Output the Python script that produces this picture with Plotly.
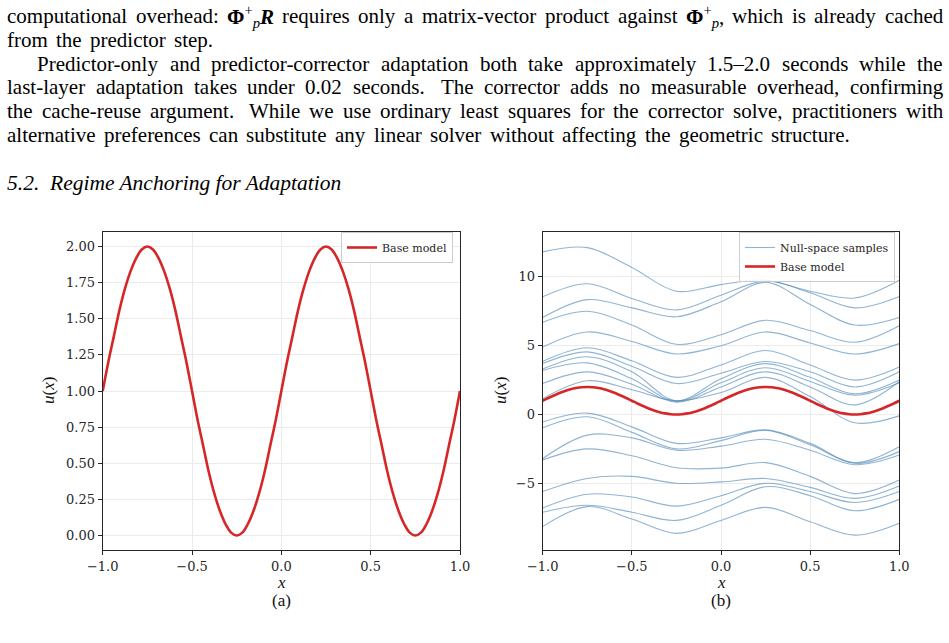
import re
import plotly.graph_objects as go

W, H = 949, 643

# ---------------- data ----------------
x_dense = [-1 + i / 32 for i in range(65)]
base_model = [1.00, 1.20, 1.38, 1.56, 1.71, 1.83, 1.92, 1.98, 2.00, 1.98, 1.92, 1.83, 1.71, 1.56, 1.38, 1.20,
              1.00, 0.80, 0.62, 0.44, 0.29, 0.17, 0.08, 0.02, 0.00, 0.02, 0.08, 0.17, 0.29, 0.44, 0.62, 0.80,
              1.00, 1.20, 1.38, 1.56, 1.71, 1.83, 1.92, 1.98, 2.00, 1.98, 1.92, 1.83, 1.71, 1.56, 1.38, 1.20,
              1.00, 0.80, 0.62, 0.44, 0.29, 0.17, 0.08, 0.02, 0.00, 0.02, 0.08, 0.17, 0.29, 0.44, 0.62, 0.80,
              1.00]

x_samples = [-1.0, -0.75, -0.5, -0.25, 0.0, 0.25, 0.5, 0.75, 1.0]
null_space_samples = [
    [11.82, 12.13, 10.68, 8.96, 9.44, 9.76, 8.96, 8.47, 9.76],
    [8.55, 9.5, 8.43, 7.6, 8.67, 9.7, 8.85, 7.75, 8.58],
    [7.05, 8.35, 7.75, 7.1, 8.2, 9.6, 8.0, 6.5, 7.05],
    [6.7, 7.5, 6.5, 5.1, 5.8, 6.85, 6.1, 5.25, 6.45],
    [4.9, 6.0, 5.3, 4.4, 5.0, 6.0, 5.2, 4.4, 5.15],
    [3.86, 4.85, 3.9, 2.7, 3.6, 4.65, 3.6, 2.5, 3.45],
    [3.7, 4.55, 3.5, 2.25, 3.0, 3.85, 3.1, 2.0, 3.1],
    [3.3, 4.2, 3.1, 1.0, 2.6, 3.7, 2.7, 1.5, 2.5],
    [3.2, 3.75, 2.6, 0.95, 2.3, 3.4, 2.4, 1.4, 2.3],
    [2.25, 3.1, 2.2, 0.9, 2.0, 3.1, 2.0, 0.7, 2.4],
    [1.15, 2.45, 1.8, 1.0, 1.6, 2.7, 1.3, -0.6, -0.1],
    [-0.55, 0.1, -0.9, -2.1, -1.7, -1.12, -2.1, -3.5, -2.35],
    [-0.97, -0.17, -1.3, -2.5, -1.9, -1.15, -2.2, -3.55, -2.7],
    [-3.2, -1.5, -1.7, -2.6, -2.3, -1.8, -2.6, -3.65, -2.95],
    [-3.3, -2.5, -3.0, -3.87, -3.9, -3.5, -4.5, -5.75, -4.77],
    [-5.6, -4.65, -4.5, -5.0, -4.9, -4.65, -5.3, -6.1, -5.2],
    [-6.8, -5.8, -6.0, -6.66, -5.9, -5.0, -5.6, -6.4, -5.6],
    [-7.1, -6.6, -7.1, -7.7, -6.6, -5.25, -5.9, -7.0, -6.17],
    [-8.15, -6.7, -7.6, -8.64, -7.7, -6.75, -7.8, -8.77, -7.9],
]

x_ticks = [-1.0, -0.5, 0.0, 0.5, 1.0]
left_y_ticks = [0.0, 0.25, 0.5, 0.75, 1.0, 1.25, 1.5, 1.75, 2.0]
right_y_ticks = [-5, 0, 5, 10]

PHI = "<b>Φ</b><sup>+</sup><sub><i>p</i></sub>"
para_lines = [
    "computational overhead: " + PHI + "<b><i>R</i></b> requires only a matrix-vector product against "
    + PHI + ", which is already cached",
    "from the predictor step.",
    "Predictor-only and predictor-corrector adaptation both take approximately 1.5–2.0 seconds while the",
    "last-layer adaptation takes under 0.02 seconds. The corrector adds no measurable overhead, confirming",
    "the cache-reuse argument. While we use ordinary least squares for the corrector solve, practitioners with",
    "alternative preferences can substitute any linear solver without affecting the geometric structure.",
]
section_title = "<i>5.2.  Regime Anchoring for Adaptation</i>"

# ---------------- helpers ----------------
def px(x):
    return x / W


def py(y):
    return 1 - y / H


CW = {' ': 250, '(': 333, ')': 333, '+': 564, ',': 250, '-': 333, '.': 250, ':': 278, '–': 500,
      'A': 722, 'B': 667, 'C': 667, 'D': 722, 'E': 611, 'F': 556, 'G': 722, 'H': 722, 'I': 333, 'J': 389,
      'K': 722, 'L': 611, 'M': 889, 'N': 722, 'O': 722, 'P': 556, 'Q': 722, 'R': 667, 'S': 556, 'T': 611,
      'U': 722, 'V': 722, 'W': 944, 'X': 722, 'Y': 722, 'Z': 611,
      'a': 444, 'b': 500, 'c': 444, 'd': 500, 'e': 444, 'f': 333, 'g': 500, 'h': 500, 'i': 278, 'j': 278,
      'k': 500, 'l': 278, 'm': 778, 'n': 500, 'o': 500, 'p': 500, 'q': 500, 'r': 333, 's': 389, 't': 278,
      'u': 500, 'v': 500, 'w': 722, 'x': 500, 'y': 500, 'z': 444, 'Φ': 760}


def cw(c):
    if c.isdigit():
        return 500
    return CW.get(c, 500)


def word_width(html, size):
    total = 0.0
    for m in re.finditer(r'<(sup|sub)>(.*?)</\1>|<[^>]+>|([^<]+)', html):
        if m.group(1):
            inner = re.sub(r'<[^>]+>', '', m.group(2))
            total += 0.7 * sum(cw(c) for c in inner)
        elif m.group(3):
            total += sum(cw(c) for c in m.group(3))
    return total * size / 1000.0


# ---------------- figure ----------------
RED = "#d62728"
BLUE = "rgba(70,130,180,0.6)"
SPINE = "#262626"
GRID = "#ebebeb"
TICKFONT = dict(family="DejaVu Serif", size=13, color="#262626")

fig = go.Figure()

fig.add_trace(go.Scatter(x=x_dense, y=base_model, mode="lines", name="Base model",
                         line=dict(color=RED, width=2.6, shape="spline"),
                         xaxis="x", yaxis="y", legend="legend"))

for i, s in enumerate(null_space_samples):
    fig.add_trace(go.Scatter(x=x_samples, y=s, mode="lines", name="Null-space samples",
                             line=dict(color=BLUE, width=1.1, shape="spline", smoothing=1.0),
                             legendgroup="ns", showlegend=(i == 0),
                             xaxis="x2", yaxis="y2", legend="legend2"))
fig.add_trace(go.Scatter(x=x_dense, y=base_model, mode="lines", name="Base model",
                         line=dict(color=RED, width=2.6, shape="spline"),
                         xaxis="x2", yaxis="y2", legend="legend2"))

axis_common = dict(showline=True, mirror=True, linecolor=SPINE, linewidth=1.3,
                   ticks="outside", ticklen=4, tickwidth=1, tickcolor=SPINE,
                   showgrid=True, gridcolor=GRID, gridwidth=0.8, zeroline=False,
                   tickfont=TICKFONT, automargin=False)

L0, L1 = px(102.7), px(460)
R0, R1 = px(542.7), px(899.3)
B0, B1 = py(550), py(231.5)

legend_common = dict(yanchor="top", xanchor="right",
                     bgcolor="rgba(255,255,255,0.85)", bordercolor="#cccccc", borderwidth=1,
                     font=dict(family="DejaVu Serif", size=11, color="#262626"), itemwidth=30,
                     tracegroupgap=0)

fig.update_layout(
    width=W, height=H, margin=dict(l=0, r=0, t=0, b=0, autoexpand=False),
    paper_bgcolor="white", plot_bgcolor="white",
    xaxis=dict(domain=[L0, L1], range=[-1, 1], tickvals=x_ticks, tickformat=".1f", anchor="y", **axis_common),
    yaxis=dict(domain=[B0, B1], range=[-0.1, 2.104], tickvals=left_y_ticks, tickformat=".2f", anchor="x", **axis_common),
    xaxis2=dict(domain=[R0, R1], range=[-1, 1], tickvals=x_ticks, tickformat=".1f", anchor="y2", **axis_common),
    yaxis2=dict(domain=[B0, B1], range=[-9.85, 13.3], tickvals=right_y_ticks, anchor="x2", **axis_common),
    legend=dict(x=px(453), y=py(232), **legend_common),
    legend2=dict(x=px(895), y=py(232), **legend_common),
    showlegend=True,
)

# justified paragraph text, one annotation per word
anns = []
FS = 21
BODY = dict(family="Liberation Serif", size=FS, color="#000000")
line_y = [16, 40, 64, 87, 111, 135]
line_x0 = [7, 7, 37, 7, 7, 7]
line_x1 = [943, 213, 943, 943, 943, 850]
for i, line in enumerate(para_lines):
    words = line.split(" ")
    widths = [word_width(w, FS) for w in words]
    weights = [1.6 if words[k].endswith(".") else 1.0 for k in range(len(words) - 1)]
    gap = (line_x1[i] - line_x0[i] - sum(widths)) / max(sum(weights), 1e-9)
    xpos = line_x0[i]
    for k, w in enumerate(words):
        anns.append(dict(text=w, x=px(xpos - 2), y=py(line_y[i]), xanchor="left", yanchor="middle",
                         xref="paper", yref="paper", showarrow=False, font=BODY))
        if k < len(weights):
            xpos += widths[k] + gap * weights[k]

anns.append(dict(text=section_title, x=px(5), y=py(183), xanchor="left", yanchor="middle",
                 xref="paper", yref="paper", showarrow=False, font=dict(BODY, size=21.5)))

LABEL = dict(family="Liberation Serif", size=17, color="#111111")
for cx, lab in [(281, "(a)"), (721, "(b)")]:
    anns.append(dict(text="<i>x</i>", x=px(cx), y=py(582), xanchor="center", yanchor="middle",
                     xref="paper", yref="paper", showarrow=False, font=LABEL))
    anns.append(dict(text=lab, x=px(cx), y=py(600), xanchor="center", yanchor="middle",
                     xref="paper", yref="paper", showarrow=False, font=LABEL))
for cx in [48, 500]:
    anns.append(dict(text="<i>u</i>(<i>x</i>)", x=px(cx), y=py(391), xanchor="center", yanchor="middle",
                     textangle=-90, xref="paper", yref="paper", showarrow=False, font=LABEL))

fig.update_layout(annotations=anns)
fig.write_html("out.html")
